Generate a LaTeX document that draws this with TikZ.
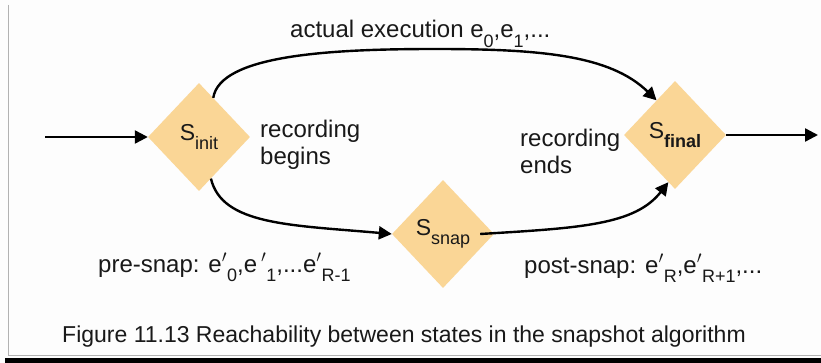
\documentclass[tikz,border=0pt]{standalone}
\usepackage{fontspec}
\setmainfont{Liberation Sans}
\usetikzlibrary{shapes.geometric,arrows.meta}
\definecolor{dfill}{RGB}{250,214,150}
\definecolor{bg}{RGB}{253,253,253}
\definecolor{txt}{RGB}{25,25,25}
\newcommand\lsub[1]{\raisebox{-0.38em}{\fontsize{18}{18}\selectfont #1}}
\newcommand\dsub[1]{\raisebox{-0.38em}{\fontsize{18}{18}\selectfont #1}}
\begin{document}
\begin{tikzpicture}[x=1pt,y=-1pt,
  state/.style={diamond, fill=dfill, minimum width=102pt, minimum height=108pt, inner sep=0pt, text=txt, font=\fontsize{23}{23}\selectfont},
  lbl/.style={font=\fontsize{24}{27}\selectfont, text=txt, inner sep=0pt},
  caplbl/.style={font=\fontsize{23}{27}\selectfont, text=txt, inner sep=0pt},
  conn/.style={line width=2.4pt, -{Triangle[length=13pt,width=13pt]}}]
\useasboundingbox (0,0) rectangle (821,363);
\fill[bg] (0,0) rectangle (821,363);
\draw[gray!60, line width=1pt] (8.5,5) -- (8.5,355) -- (821,355);
\fill[black] (5,358) rectangle (821,363);
% states
\node[state] (sinit) at (199,137) {S\dsub{init}};
\node[state] (snap) at (443,234) {S\dsub{snap}};
\node[state] (final) at (675,135) {S\dsub{\bfseries final}};
\coordinate (inc) at (45,137);
\coordinate (outc) at (818,135);
\coordinate (peak) at (435,49);
% connectors
\draw[conn] (inc) -- (sinit.west);
\draw[conn] (final.east) -- (outc);
\draw[conn] (sinit.70) .. controls (220,55) and (330,49) .. (peak) .. controls (540,49) and (610,55) .. (final.118);
\draw[conn] (sinit.-74) .. controls (222,225) and (290,225) .. (snap.west);
\draw[conn] ([xshift=-14pt]snap.east) .. controls (580,228) and (635,225) .. (final.-98);
% labels
\node[lbl, anchor=base west] (actual) at (290,38) {actual execution e\lsub{0},e\lsub{1},...};
\node[lbl, anchor=west, align=left] (recb) at (260,145) {recording\\begins};
\node[lbl, anchor=west, align=left] (rece) at (520,151) {recording\\ends};
\node[lbl, anchor=base west] (pre) at (98,272) {pre-snap: e$'$\lsub{0},e\,$'$\lsub{1},...e$'$\lsub{R-1}};
\node[lbl, anchor=base west] (post) at (524,273) {post-snap: e$'$\lsub{R},e$'$\lsub{R+1},...};
\node[caplbl, anchor=base west] (cap) at (62,342) {Figure 11.13 Reachability between states in the snapshot algorithm};
\end{tikzpicture}
\end{document}
